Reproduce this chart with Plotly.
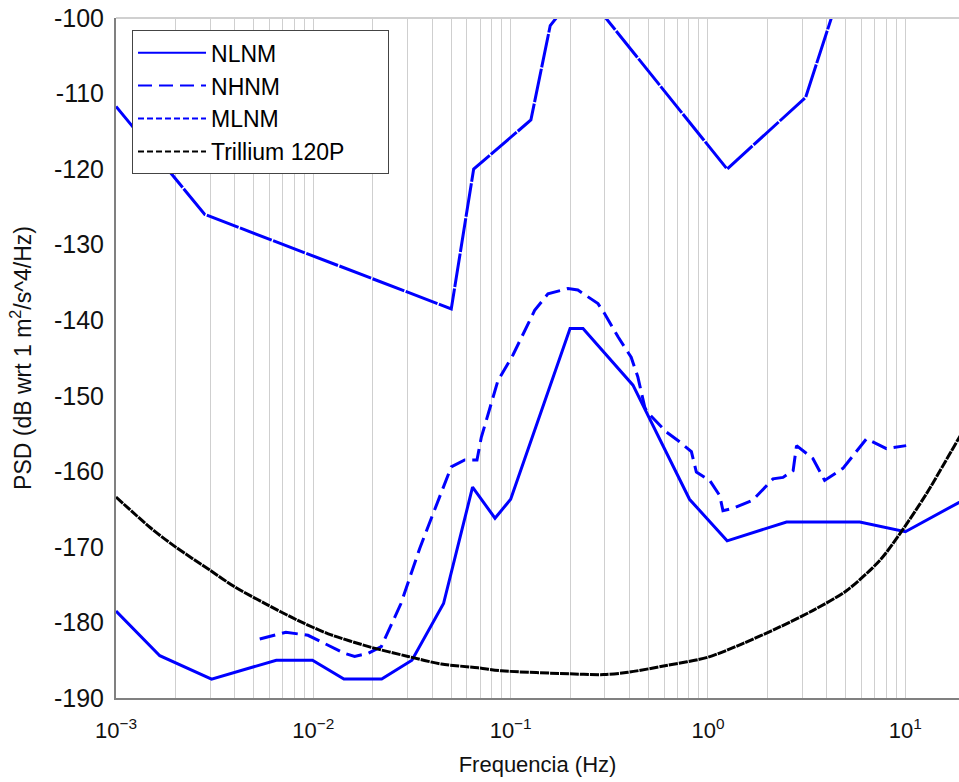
import plotly.graph_objects as go

# Peterson low-noise model (NLNM), breakpoints in Hz / dB
nlnm_f = [0.001, 0.001667, 0.00305, 0.00649, 0.0099, 0.01429, 0.0222, 0.0316,
          0.0457, 0.0641, 0.0833, 0.1, 0.2, 0.2326, 0.4167, 0.806, 1.25,
          2.5, 5.88, 10.0, 20.0]
nlnm_db = [-178.5, -184.4, -187.5, -185.0, -185.0, -187.5, -187.5, -185.0,
           -177.5, -162.1, -166.2, -163.7, -141.1, -141.1, -148.6, -163.7, -169.2,
           -166.7, -166.7, -168.0, -163.7]

# Peterson high-noise model (NHNM)
nhnm_f = [0.001, 0.002818, 0.05, 0.06494, 0.1266, 0.1587, 0.2174, 0.2632,
          1.25, 3.125, 4.545, 10.0]
nhnm_db = [-111.7, -126.0, -138.5, -120.0, -113.5, -101.0, -96.5, -98.0,
           -120.0, -110.5, -97.4, -91.5]

# Station model (MLNM)
mlnm_f = [0.00535, 0.00726, 0.0094, 0.01443, 0.01619, 0.01891, 0.0221, 0.0278,
          0.0346, 0.0445, 0.05, 0.0585, 0.0675, 0.071, 0.0862, 0.1027, 0.1323,
          0.1545, 0.1954, 0.219, 0.277, 0.299, 0.35, 0.408, 0.441, 0.478, 0.49,
          0.615, 0.719, 0.824, 0.873, 1.02, 1.146, 1.191, 1.339, 1.69, 2.134,
          2.40, 2.70, 2.81, 3.40, 3.90, 4.83, 6.35, 8.02, 10.1]
mlnm_db = [-182.2, -181.3, -181.7, -184.1, -184.5, -184.1, -183.2, -177.5,
           -170.2, -163.0, -159.4, -158.5, -158.5, -155.5, -148.0, -144.6, -138.7,
           -136.5, -135.8, -136.0, -137.8, -139.1, -142.2, -144.9, -147.5, -151.5, -152.1,
           -154.8, -156.1, -157.4, -160.1, -161.2, -163.2, -165.2, -164.9, -163.8, -161.0,
           -160.8, -159.9, -156.6, -158.3, -161.2, -159.6, -155.7, -157.0, -156.6]

# Trillium 120P self-noise
tril_f = [0.001, 0.0015, 0.002, 0.003, 0.004, 0.0057, 0.0083, 0.0119, 0.0197,
          0.0302, 0.0445, 0.0683, 0.0897, 0.199, 0.297, 0.393, 0.615, 1.0, 1.5,
          2.31, 3.41, 5.03, 7.42, 9.36, 12.77, 18.4, 20.0]
tril_db = [-163.4, -167.5, -170.0, -173.1, -175.3, -177.5, -179.7, -181.5, -183.3,
           -184.5, -185.5, -186.0, -186.4, -186.8, -186.9, -186.6, -185.7, -184.6, -182.8,
           -180.6, -178.4, -175.8, -171.8, -168.3, -163.0, -155.9, -154.3]

# Axis ticks
decades = [-3, -2, -1, 0, 1]
decade_labels = ["10<sup>\u22123</sup>", "10<sup>\u22122</sup>", "10<sup>\u22121</sup>",
                 "10<sup>0</sup>", "10<sup>1</sup>"]
y_ticks = [-190, -180, -170, -160, -150, -140, -130, -120, -110, -100]
y_labels = ["-190", "-180", "-170", "-160", "-150", "-140", "-130", "-120", "-110", "-100"]

x_tickvals, x_ticktext = [], []
for e, lab in zip(decades, decade_labels):
    for d in range(1, 10):
        x_tickvals.append(d * 10.0 ** e)
        x_ticktext.append(lab if d == 1 else "")

BLUE = "#0000ff"
FONT = "Liberation Sans, Arial"
PAD = "\u00a0" * 6  # right padding inside the legend box

fig = go.Figure()
fig.add_trace(go.Scatter(x=nhnm_f, y=nhnm_db, mode="lines", showlegend=False,
                         line=dict(color=BLUE, width=3, dash="34px,1.5px")))
fig.add_trace(go.Scatter(x=mlnm_f, y=mlnm_db, mode="lines", showlegend=False,
                         line=dict(color=BLUE, width=3, dash="16px,7px")))
fig.add_trace(go.Scatter(x=nlnm_f, y=nlnm_db, mode="lines", showlegend=False,
                         line=dict(color=BLUE, width=3)))
fig.add_trace(go.Scatter(x=tril_f, y=tril_db, mode="lines", showlegend=False,
                         line=dict(color="black", width=3, dash="9px,1px",
                                   shape="spline", smoothing=0.8)))

# legend entries
legend_items = [("NLNM", BLUE, "solid"), ("NHNM", BLUE, "14px,7px"),
                ("MLNM", BLUE, "6px,3px"), ("Trillium 120P" + PAD, "black", "6px,3px")]
for name, col, dash in legend_items:
    fig.add_trace(go.Scatter(x=[None], y=[None], mode="lines", name=name,
                             line=dict(color=col, width=2, dash=dash)))

fig.update_layout(
    width=959, height=782,
    margin=dict(l=116, r=0, t=18, b=84),
    paper_bgcolor="white", plot_bgcolor="white",
    showlegend=True,
    legend=dict(x=0.019, y=0.982, xanchor="left", yanchor="top",
                bgcolor="white", bordercolor="#444444", borderwidth=1,
                font=dict(family=FONT, size=23, color="black"),
                itemwidth=68, tracegroupgap=0),
    shapes=[dict(type="line", xref="paper", yref="paper", x0=0, x1=1, y0=1, y1=1,
                 line=dict(color="#d0d0d0", width=2))],
)
fig.update_xaxes(type="log", range=[-3, 1.272],
                 tickvals=x_tickvals, ticktext=x_ticktext, tickmode="array",
                 showgrid=True, gridcolor="#cfcfcf", gridwidth=1,
                 showline=True, linecolor="#808080", linewidth=2,
                 ticks="", ticklabelstandoff=12, zeroline=False,
                 tickfont=dict(family=FONT, size=22, color="#111111"),
                 title=dict(text="Frequencia (Hz)", standoff=14,
                            font=dict(family=FONT, size=22, color="#111111")))
fig.update_yaxes(range=[-190, -100], tickvals=y_ticks, ticktext=y_labels, tickmode="array",
                 showgrid=False, zeroline=False,
                 showline=True, linecolor="#808080", linewidth=2,
                 ticks="", ticklabelstandoff=5,
                 tickfont=dict(family=FONT, size=25, color="#111111"),
                 title=dict(text="PSD (dB wrt 1 m<sup>2</sup>/s^4/Hz)", standoff=16,
                            font=dict(family=FONT, size=23, color="#111111")))

fig.write_html("out.html")
